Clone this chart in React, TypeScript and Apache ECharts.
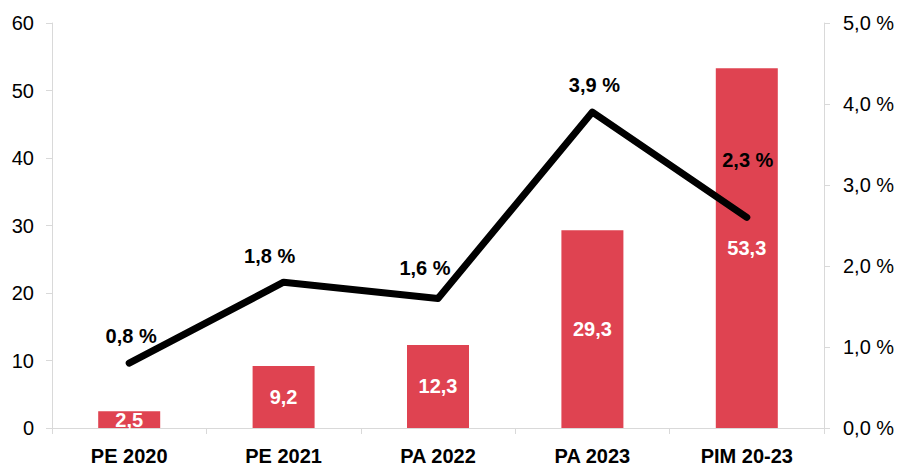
import React, { useEffect, useRef } from "react";
import * as echarts from "echarts";

const categories = ["PE 2020", "PE 2021", "PA 2022", "PA 2023", "PIM 20-23"];
const barValues = [2.5, 9.2, 12.3, 29.3, 53.3];
const lineValues = [0.8, 1.8, 1.6, 3.9, 2.6];
const lineLabels = ["0,8 %", "1,8 %", "1,6 %", "3,9 %", "2,3 %"];
const lineLabelOffsets: [number, number][] = [[2, -12], [-14, -11], [-13, -15], [2, -12], [1, -42]];

const FONT = "'Liberation Sans', Arial, Helvetica, sans-serif";
const fmt = (v: number, d: number) => v.toFixed(d).replace(".", ",");

export default function App() {
  const ref = useRef<HTMLDivElement>(null);
  useEffect(() => {
    const chart = echarts.init(ref.current!, null, { renderer: "svg" });
    chart.setOption({
      animation: false,
      grid: { left: 52, right: 78, top: 23, bottom: 37 },
      xAxis: {
        type: "category",
        data: categories,
        axisLine: { lineStyle: { color: "#d9d9d9", width: 1 } },
        axisTick: { show: true, length: 6, lineStyle: { color: "#d9d9d9" } },
        axisLabel: { color: "#000", fontFamily: FONT, fontWeight: "bold", fontSize: 20, margin: 18 },
      },
      yAxis: [
        {
          type: "value", min: 0, max: 60, interval: 10,
          splitLine: { show: false },
          axisLine: { show: true, lineStyle: { color: "#d9d9d9" } },
          axisTick: { show: true, length: 6, lineStyle: { color: "#d9d9d9" } },
          axisLabel: { color: "#000", fontFamily: FONT, fontSize: 20, margin: 18 },
        },
        {
          type: "value", min: 0, max: 5, interval: 1, position: "right",
          splitLine: { show: false },
          axisLine: { show: true, lineStyle: { color: "#d9d9d9" } },
          axisTick: { show: true, length: 6, lineStyle: { color: "#d9d9d9" } },
          axisLabel: { color: "#000", fontFamily: FONT, fontSize: 20, margin: 19, formatter: (v: number) => fmt(v, 1) + " %" },
        },
      ],
      series: [
        {
          type: "bar",
          data: barValues,
          barWidth: 62,
          itemStyle: { color: "#df4351" },
          label: {
            show: true, position: "inside", color: "#fff", fontFamily: FONT, fontWeight: "bold", fontSize: 20,
            formatter: (p: any) => fmt(p.value, 1),
          },
        },
        {
          type: "line",
          yAxisIndex: 1,
          data: lineValues.map((v, i) => ({
            value: v,
            label: { offset: lineLabelOffsets[i], formatter: lineLabels[i] },
          })),
          showSymbol: true,
          symbol: "circle",
          symbolSize: 1,
          itemStyle: { color: "#000" },
          lineStyle: { color: "#000", width: 7, cap: "round", join: "round" },
          label: {
            show: true, position: "top", distance: 5, color: "#000", fontFamily: FONT, fontWeight: "bold", fontSize: 20,
          },
        },
      ],
    });
    return () => chart.dispose();
  }, []);
  return <div ref={ref} style={{ width: 902, height: 466, position: "absolute", left: 0, top: 0 }} />;
}
